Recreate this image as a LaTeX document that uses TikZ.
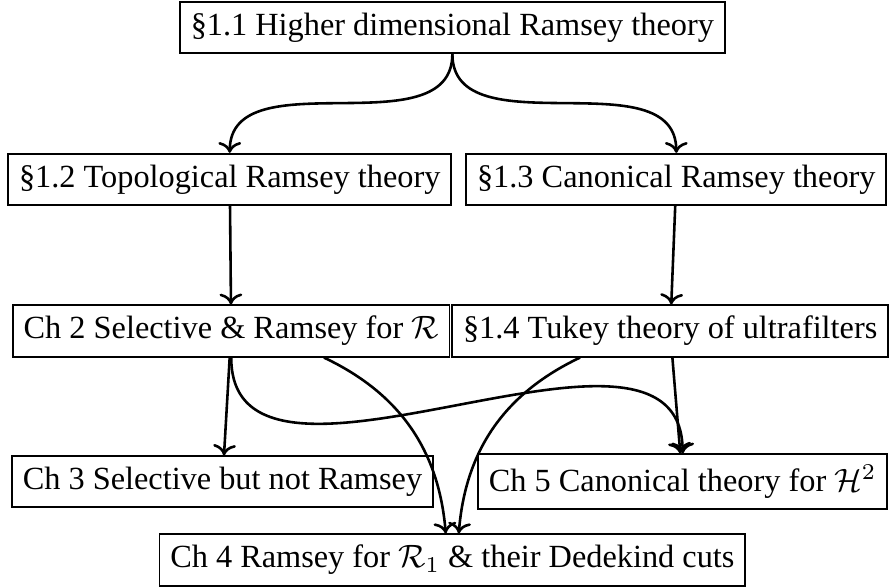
\documentclass[tikz,border=0pt]{standalone}
\usepackage{fontspec}
\setmainfont{Liberation Serif}
\usepackage{tikz}
\usetikzlibrary{arrows.meta, positioning}
\tikzset{
  arr/.style={->, thick},
  topic/.style={rectangle, draw, semithick, inner sep=0.333em, text=black},
}
\begin{document}
\begin{tikzpicture}[font=\normalsize]
  \useasboundingbox (0,0) rectangle (9.68,-6.375);

  % Background sections and chapters
  \node[topic] (sec11) at (4.92,-0.30) {\S1.1 Higher dimensional Ramsey theory};
  \node[topic, anchor=west] (sec12) at (0.08,-1.95) {\S1.2 Topological Ramsey theory};
  \node[topic, anchor=east] (sec13) at (9.65,-1.95) {\S1.3 Canonical Ramsey theory};
  \node[topic, anchor=west] (ch2) at (0.13,-3.60) {Ch 2 Selective \& Ramsey for $\mathcal{R}$};
  \node[topic, anchor=east] (sec14) at (9.67,-3.60) {\S1.4 Tukey theory of ultrafilters};
  \node[topic, anchor=west] (ch3) at (0.12,-5.24) {Ch 3 Selective but not Ramsey};
  \node[topic, anchor=east] (ch5) at (9.66,-5.24) {Ch 5 Canonical theory for $\mathcal{H}^2$};
  \node[topic] (ch4) at (4.92,-6.09) {Ch 4 Ramsey for $\mathcal{R}_1$ \& their Dedekind cuts};

  % Dependencies
  \draw[arr] (sec11.south) to[out=-90, in=90] (sec12.north);
  \draw[arr] (sec11.south) to[out=-90, in=90] (sec13.north);
  \draw[arr] (sec12) -- (ch2);
  \draw[arr] (sec13) -- (sec14);
  \draw[arr] (ch2) -- (ch3);
  \draw[arr] (ch2.south) to[out=-90, in=90] (ch5.north);
  \draw[arr] (ch2) to[bend left] (ch4);
  \draw[arr] (sec14) to[bend right] (ch4);
  \draw[arr] (sec14) -- (ch5);
\end{tikzpicture}
\end{document}
